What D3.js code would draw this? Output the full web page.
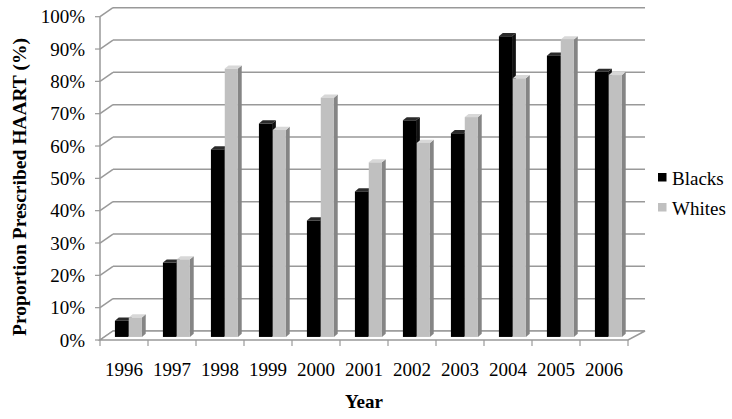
<!DOCTYPE html>
<html>
<head>
<meta charset="utf-8">
<script src="https://cdn.jsdelivr.net/npm/d3@7"></script>
<style>
  html, body { margin: 0; padding: 0; background: #fff; }
  svg { display: block; }
</style>
</head>
<body>
<svg id="chart" width="732" height="419"></svg>
<script>
const years = ["1996","1997","1998","1999","2000","2001","2002","2003","2004","2005","2006"];
const seriesNames = ["Blacks", "Whites"];
const blacks = [5, 23, 58, 66, 36, 45, 67, 63, 93, 87, 82];
const whites = [6, 24, 83, 64, 74, 54, 60, 68, 80, 92, 81];
const yTicks = [0, 10, 20, 30, 40, 50, 60, 70, 80, 90, 100];
const yTickLabels = yTicks.map(v => v + "%");

const svg = d3.select("#chart");
const font = "'Liberation Serif', 'Times New Roman', serif";

// geometry
const frontLeft = 100, frontRight = 628;
const depthDx = 13, depthDy = -9;       // floor depth offset (front -> back)
const barFrac = 0.34;                   // where bars sit within the depth
const barDx = 3.8, barDy = -3.2;        // bar's own depth

const y = d3.scaleLinear().domain([0, 100]).range([340, 16.7]);
const x0 = d3.scaleBand().domain(years).range([frontLeft, frontRight]);
const x1 = d3.scaleBand().domain(seriesNames).range([10.5, 37.5]).paddingInner(0.05);

const gridColor = "#999";

const g = svg.append("g");
yTicks.forEach(t => {
  const yf = y(t);
  const yb = yf + depthDy;
  g.append("line")
    .attr("x1", frontLeft).attr("y1", yf)
    .attr("x2", frontLeft + depthDx).attr("y2", yb)
    .attr("stroke", gridColor).attr("stroke-width", 1.5);
  g.append("line")
    .attr("x1", frontLeft + depthDx).attr("y1", yb)
    .attr("x2", frontRight + depthDx + 4).attr("y2", yb)
    .attr("stroke", gridColor).attr("stroke-width", 1.5);
  g.append("line")
    .attr("x1", frontLeft - 5).attr("y1", yf)
    .attr("x2", frontLeft).attr("y2", yf)
    .attr("stroke", gridColor).attr("stroke-width", 1.2);
});

g.append("line")
  .attr("x1", frontLeft).attr("y1", y(0))
  .attr("x2", frontLeft).attr("y2", y(100))
  .attr("stroke", gridColor).attr("stroke-width", 1.5);

g.append("polygon")
  .attr("points", [
    [frontLeft, y(0)], [frontRight, y(0)],
    [frontRight + depthDx + 4, y(0) + depthDy], [frontLeft + depthDx, y(0) + depthDy]
  ].map(p => p.join(",")).join(" "))
  .attr("fill", "#fff").attr("stroke", gridColor).attr("stroke-width", 1.5);

years.concat(["end"]).forEach((yr, i) => {
  const xx = i < years.length ? x0(yr) : frontRight;
  g.append("line")
    .attr("x1", xx).attr("y1", y(0))
    .attr("x2", xx).attr("y2", y(0) + 6)
    .attr("stroke", gridColor).attr("stroke-width", 1.2);
});

const offX = depthDx * barFrac, offY = depthDy * barFrac;
const barBase = y(0) + offY;
const styles = {
  Blacks: { front: "#000", side: "#111", top: "#2a2a2a" },
  Whites: { front: "#c0c0c0", side: "#858585", top: "#d8d8d8" }
};
const bars = svg.append("g");
years.forEach((yr, i) => {
  [["Blacks", blacks[i]], ["Whites", whites[i]]].forEach(([s, v]) => {
    const bx = x0(yr) + x1(s) + offX;
    const bw = x1.bandwidth();
    const top = y(v) + offY;
    const st = styles[s];
    const gb = bars.append("g");
    gb.append("polygon")
      .attr("points", [[bx + bw, barBase], [bx + bw, top], [bx + bw + barDx, top + barDy], [bx + bw + barDx, barBase + barDy]]
        .map(p => p.join(",")).join(" "))
      .attr("fill", st.side);
    gb.append("polygon")
      .attr("points", [[bx, top], [bx + bw, top], [bx + bw + barDx, top + barDy], [bx + barDx, top + barDy]]
        .map(p => p.join(",")).join(" "))
      .attr("fill", st.top);
    gb.append("rect")
      .attr("x", bx).attr("y", top)
      .attr("width", bw).attr("height", barBase - top)
      .attr("fill", st.front);
  });
});

yTicks.forEach((t, i) => {
  svg.append("text")
    .attr("x", 85).attr("y", y(t) + 6.5)
    .attr("text-anchor", "end")
    .attr("font-family", font).attr("font-size", 19)
    .attr("fill", "#000")
    .text(yTickLabels[i]);
});

years.forEach(yr => {
  svg.append("text")
    .attr("x", x0(yr) + x0.bandwidth() / 2).attr("y", 376)
    .attr("text-anchor", "middle")
    .attr("font-family", font).attr("font-size", 19)
    .attr("fill", "#000")
    .text(yr);
});

svg.append("text")
  .attr("x", (frontLeft + frontRight) / 2).attr("y", 408)
  .attr("text-anchor", "middle")
  .attr("font-family", font).attr("font-size", 19).attr("font-weight", "bold")
  .text("Year");

svg.append("text")
  .attr("transform", "translate(26,187) rotate(-90)")
  .attr("text-anchor", "middle")
  .attr("font-family", font).attr("font-size", 19.5).attr("font-weight", "bold")
  .text("Proportion Prescribed HAART (%)");

const legend = svg.append("g");
seriesNames.forEach((s, i) => {
  const ly = 185 + i * 30;
  legend.append("rect")
    .attr("x", 658).attr("y", ly - 12)
    .attr("width", 8.5).attr("height", 8.5)
    .attr("fill", styles[s].front);
  legend.append("text")
    .attr("x", 672).attr("y", ly)
    .attr("font-family", font).attr("font-size", 19)
    .attr("fill", "#000")
    .text(s);
});
</script>
</body>
</html>
